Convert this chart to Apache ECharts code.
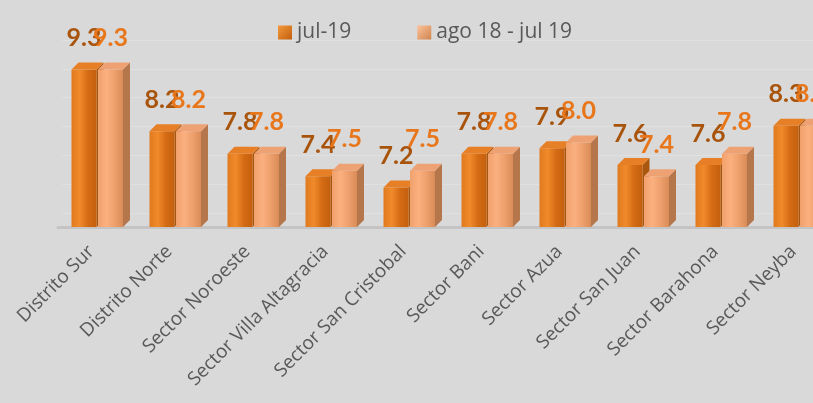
<!DOCTYPE html>
<html>
<head>
<meta charset="utf-8">
<script src="https://cdn.jsdelivr.net/npm/echarts@6/dist/echarts.min.js"></script>
<style>
  html, body { margin: 0; padding: 0; background: #d9d9d9; }
  #chart { width: 813px; height: 403px; }
</style>
</head>
<body>
<div id="chart"></div>
<script>
const categories = [
  "Distrito Sur", "Distrito Norte", "Sector Noroeste", "Sector Villa Altagracia",
  "Sector San Cristobal", "Sector Bani", "Sector Azua", "Sector San Juan",
  "Sector Barahona", "Sector Neyba"
];
const julValues = [9.3, 8.2, 7.8, 7.4, 7.2, 7.8, 7.9, 7.6, 7.6, 8.3];
const yearValues = [9.3, 8.2, 7.8, 7.5, 7.5, 7.8, 8.0, 7.4, 7.8, 8.3];
const seriesNames = ["jul-19", "ago 18 - jul 19"];

const chart = echarts.init(document.getElementById("chart"), null, { renderer: "canvas" });

const lin = (x2, y2, stops) => new echarts.graphic.LinearGradient(0, 0, x2, y2,
  stops.map((c, i) => ({ offset: i / (stops.length - 1), color: c })));

const styles = [
  {
    front: () => lin(1, 0, ["#e07a1f", "#f08a2a", "#d46b14", "#c45f0e"]),
    cap: "#e67f26",
    side: "#a9560f",
    label: "#a8540c",
    offset: -25.5
  },
  {
    front: () => lin(1, 0, ["#f0a16c", "#fbb07f", "#eea06c", "#d98c58"]),
    cap: "#eea273",
    side: "#b5764b",
    label: "#e8761b",
    offset: 1
  }
];

const BAR_W = 25;
const DX = 7;
const DY = 7;

// 3D-looking bar: side face, front face, top cap, then the value label
function render3d(s) {
  return function (params, api) {
    const idx = api.value(0);
    const val = api.value(1);
    const top = api.coord([idx, val]);
    const base = api.coord([idx, 6.5]);
    const x0 = top[0] + s.offset;
    const x1 = x0 + BAR_W;
    const yt = top[1];
    const yb = base[1];
    return {
      type: "group",
      children: [
        {
          type: "polygon",
          shape: { points: [[x1, yt], [x1 + DX, yt - DY], [x1 + DX, yb - DY], [x1, yb]] },
          style: { fill: s.side }
        },
        {
          type: "rect",
          shape: { x: x0, y: yt, width: BAR_W, height: yb - yt },
          style: { fill: s.front() }
        },
        {
          type: "polygon",
          shape: { points: [[x0, yt], [x0 + DX, yt - DY], [x1 + DX, yt - DY], [x1, yt]] },
          style: { fill: s.cap }
        },
        {
          type: "text",
          style: {
            text: val.toFixed(1),
            x: x0 + BAR_W / 2,
            y: yt - 19,
            align: "center",
            verticalAlign: "bottom",
            fill: s.label,
            font: "bold 25px Lato"
          }
        }
      ]
    };
  };
}

chart.setOption({
  backgroundColor: "#d9d9d9",
  animation: false,
  legend: {
    left: 273,
    top: 17,
    itemWidth: 14,
    itemHeight: 14,
    itemGap: 66,
    icon: "rect",
    data: seriesNames,
    textStyle: { color: "#595959", fontSize: 21, fontFamily: "Open Sans" }
  },
  grid: [
    { left: 58, width: 780, top: 30, bottom: 176, outerBoundsMode: "none" },
    { left: 62, width: 780, top: 40, bottom: 190, outerBoundsMode: "none" }
  ],
  xAxis: [
    {
      type: "category",
      gridIndex: 0,
      data: categories,
      axisTick: { show: false },
      axisLine: { lineStyle: { color: "#c4c4c4", width: 3 } },
      axisLabel: {
        interval: 0,
        rotate: 45,
        margin: 16,
        padding: [0, 8, 0, 0],
        color: "#595959",
        fontSize: 19,
        fontFamily: "Open Sans"
      }
    },
    { type: "value", gridIndex: 1, show: false, min: 0, max: 1 }
  ],
  yAxis: [
    { type: "value", gridIndex: 0, min: 6.5, max: 10, interval: 0.5, show: false },
    {
      type: "value",
      gridIndex: 1,
      min: 0,
      max: 6,
      interval: 1,
      axisLine: { show: false },
      axisTick: { show: false },
      axisLabel: { show: false },
      splitLine: { lineStyle: { color: "#e0e0e0", width: 1 } }
    }
  ],
  series: [
    {
      name: seriesNames[0],
      type: "custom",
      renderItem: render3d(styles[0]),
      itemStyle: { color: lin(1, 1, ["#f39a3c", "#c35f0e"]) },
      data: julValues.map((v, i) => [i, v])
    },
    {
      name: seriesNames[1],
      type: "custom",
      renderItem: render3d(styles[1]),
      itemStyle: { color: lin(1, 1, ["#fcc39a", "#d0844f"]) },
      data: yearValues.map((v, i) => [i, v])
    }
  ]
});
</script>
</body>
</html>
